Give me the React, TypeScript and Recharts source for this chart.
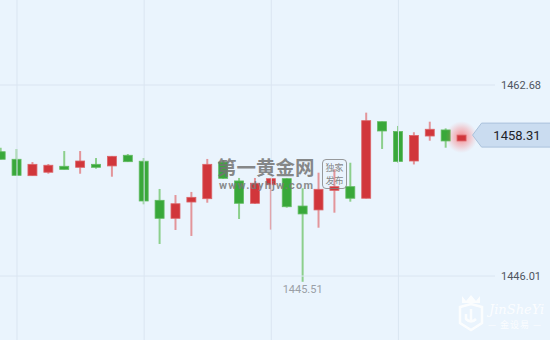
import { ComposedChart, Bar, XAxis, YAxis, ReferenceLine } from 'recharts';

// 30 candles, oldest first; red = up, green = down
const opens = [
  1456.86, 1456.2, 1454.77, 1455.07, 1455.59, 1455.5, 1455.76, 1455.62, 1456.55, 1456.03,
  1452.62, 1451.05, 1452.47, 1452.76, 1455.96, 1454.31, 1452.36, 1453.98, 1454.51, 1452.12,
  1451.78, 1453.49, 1453.81, 1452.8, 1459.48, 1458.63, 1456.05, 1458.23, 1458.76, 1457.8,
];
const highs = [
  1457.21, 1457.1, 1455.96, 1455.79, 1456.92, 1456.92, 1456.31, 1456.49, 1456.66, 1456.31,
  1453.61, 1453.08, 1453.35, 1456.23, 1456.14, 1454.57, 1454.57, 1454.57, 1454.57, 1453.67,
  1455.03, 1455.33, 1455.9, 1460.27, 1459.5, 1459.11, 1458.56, 1459.48, 1458.9, 1458.31,
];
const lows = [
  1456.18, 1454.78, 1454.74, 1454.94, 1455.3, 1454.94, 1455.38, 1454.68, 1455.96, 1452.27,
  1448.81, 1450.03, 1449.51, 1452.41, 1454.48, 1450.99, 1452.3, 1450.06, 1451.98, 1445.51,
  1450.23, 1451.54, 1452.5, 1452.78, 1457.1, 1455.9, 1455.75, 1457.82, 1457.21, 1457.8,
];
const closes = [
  1456.2, 1454.8, 1455.76, 1455.68, 1455.32, 1456.05, 1455.5, 1456.46, 1455.99, 1452.56,
  1451.05, 1452.32, 1452.88, 1455.76, 1454.54, 1452.36, 1454.11, 1454.51, 1452.06, 1451.43,
  1453.58, 1453.81, 1452.8, 1459.57, 1458.67, 1456.01, 1458.28, 1458.82, 1457.8, 1458.31,
];
const priceTicks = [1446.01, 1462.68];
const gridTicks = [1, 9, 17, 25];
const xDomain = [-0.07, 31.076];

const data = opens.map((open, i) => ({
  idx: i,
  open,
  high: highs[i],
  low: lows[i],
  close: closes[i],
}));

const lowestIdx = lows.indexOf(Math.min(...lows));
const lastIdx = data.length - 1;

const UP = '#d1363b';
const DOWN = '#39a83a';
const GRID = '#dae5f1';

function Candle(props: any) {
  const { x, y, width, height, payload, index } = props;
  const { open, close, high, low } = payload;
  const top = Math.min(y, y + height);
  const h = Math.abs(height);
  const ratio = high - low > 0 ? h / (high - low) : 0;
  const yOf = (v: number) => top + (high - v) * ratio;
  const up = close >= open;
  const cx = x + width / 2;
  const bodyTop = yOf(Math.max(open, close));
  const bodyH = Math.max(yOf(Math.min(open, close)) - bodyTop, 1.5);
  const color = up ? UP : DOWN;
  const wick = up ? '#e3959a' : '#8ccf8c';
  const closeY = yOf(close);

  return (
    <g>
      {index === lastIdx && (
        <circle cx={cx} cy={closeY + 2} r={16} fill="url(#glow)" />
      )}
      <line x1={cx} x2={cx} y1={top} y2={top + h} stroke={wick} strokeWidth={2} />
      <rect
        x={cx - width / 2}
        y={bodyTop}
        width={width}
        height={bodyH}
        fill={color}
        stroke={up ? '#dc6569' : '#62bb62'}
        strokeWidth={0.8}
      />
      {index === lowestIdx && (
        <text x={cx} y={top + h + 11} textAnchor="middle" fontSize={11} fill="#9a9fa6" fontFamily="Roboto, sans-serif">
          {low.toFixed(2)}
        </text>
      )}
      {index === lastIdx && (
        <g>
          <path
            d={`M ${cx + 11} ${closeY} L ${cx + 20} ${closeY - 12} L 551 ${closeY - 12} L 551 ${closeY + 12} L ${cx + 20} ${closeY + 12} Z`}
            fill="#cadcf0"
            stroke="#aac2dc"
            strokeWidth={1}
          />
          <text x={517} y={closeY + 4.5} textAnchor="middle" fontSize={13} fill="#1e2228" fontFamily="Roboto, sans-serif">
            {close.toFixed(2)}
          </text>
        </g>
      )}
    </g>
  );
}

export default function App() {
  return (
    <div style={{ position: 'fixed', left: 0, top: 0, width: 550, height: 340, background: '#eaf4fd', overflow: 'hidden' }}>
      <ComposedChart width={550} height={340} data={data} margin={{ top: 0, right: 0, bottom: 0, left: 0 }}>
        <defs>
          <radialGradient id="glow">
            <stop offset="0%" stopColor="#ff2a2a" stopOpacity={0.55} />
            <stop offset="60%" stopColor="#ff5a5a" stopOpacity={0.25} />
            <stop offset="100%" stopColor="#ff8080" stopOpacity={0} />
          </radialGradient>
        </defs>
        {priceTicks.map((t) => (
          <ReferenceLine key={'h' + t} y={t} stroke={GRID} strokeWidth={1} />
        ))}
        {gridTicks.map((t) => (
          <ReferenceLine key={'v' + t} x={t} stroke={GRID} strokeWidth={1} />
        ))}
        <XAxis dataKey="idx" type="number" domain={xDomain} ticks={gridTicks} hide />
        <YAxis
          orientation="right"
          width={55}
          domain={[1440.43, 1470.1]}
          ticks={priceTicks}
          tickLine={false}
          axisLine={false}
          tickSize={0}
          tickMargin={6}
          tickFormatter={(v: number) => v.toFixed(2)}
          tick={{ fontSize: 11, fill: '#4f5560', fontFamily: 'Roboto, sans-serif' }}
        />
        <Bar
          dataKey={(d: any) => [d.low, d.high]}
          barSize={9}
          shape={<Candle />}
          isAnimationActive={false}
        />
      </ComposedChart>

      {/* watermark */}
      <div style={{ position: 'absolute', left: 217, top: 157, pointerEvents: 'none', fontSize: 19.5, fontWeight: 700, color: 'rgba(115,115,115,0.85)', lineHeight: '20px', whiteSpace: 'nowrap', fontFamily: '"Noto Sans CJK SC", sans-serif' }}>
        第一黄金网
      </div>
      <div style={{ position: 'absolute', left: 219, top: 181, pointerEvents: 'none', fontSize: 11, color: 'rgba(120,120,120,0.85)', lineHeight: '10px', letterSpacing: 1.2, whiteSpace: 'nowrap', fontFamily: 'Roboto, sans-serif', fontWeight: 700 }}>
        www.dyhjw.com
      </div>
      <div
        style={{
          position: 'absolute', left: 322, top: 159, width: 25, height: 30, border: '1px solid rgba(130,130,130,0.8)',
          borderRadius: 4, fontSize: 9, lineHeight: '13px', textAlign: 'center', color: 'rgba(120,120,120,0.9)',
          fontFamily: '"Noto Sans CJK SC", sans-serif', boxSizing: 'border-box', paddingTop: 1, pointerEvents: 'none',
        }}
      >
        独家<br />发布
      </div>

      {/* bottom-right logo */}
      <div style={{ position: 'absolute', left: 457, top: 293, width: 28, height: 40, pointerEvents: 'none', opacity: 0.85 }}>
        <svg width={28} height={40}>
          <path d="M5 3 L9 8 L14 2 L19 8 L23 3 L23 10 L5 10 Z" fill="#ffffff" />
          <path d="M3 14 L14 11 L25 14 L25 30 L14 37 L3 30 Z" fill="none" stroke="#ffffff" strokeWidth={2.5} />
          <path d="M14 16 L14 27 M9 21 L9 26 Q14 31 19 26" fill="none" stroke="#ffffff" strokeWidth={2.5} />
        </svg>
      </div>
      <div style={{ position: 'absolute', left: 489, top: 302, color: 'rgba(255,255,255,0.85)', fontStyle: 'italic', fontSize: 13, fontFamily: '"DejaVu Serif", serif', pointerEvents: 'none' }}>
        JinSheYi
      </div>
      <div style={{ position: 'absolute', left: 488, top: 318, color: 'rgba(255,255,255,0.85)', fontSize: 9, fontFamily: '"Noto Sans CJK SC", sans-serif', letterSpacing: 1, whiteSpace: 'nowrap', pointerEvents: 'none' }}>
        — 金设易 —
      </div>
    </div>
  );
}
